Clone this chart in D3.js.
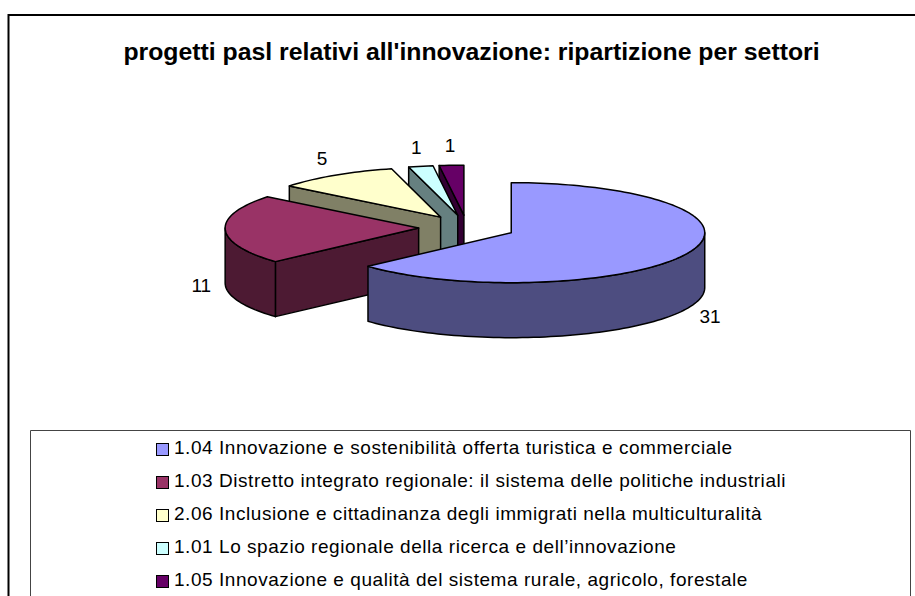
<!DOCTYPE html>
<html>
<head>
<meta charset="utf-8">
<script src="https://cdn.jsdelivr.net/npm/d3@7"></script>
<style>
  html, body { margin: 0; padding: 0; background: #fff; overflow: hidden; }
  svg { display: block; }
  text { font-family: "Liberation Sans", Arial, sans-serif; fill: #000; }
</style>
</head>
<body>
<svg id="chart" width="915" height="596"></svg>
<script>
const chartTitle = "progetti pasl relativi all'innovazione: ripartizione per settori";
const categories = [
  "1.04 Innovazione e sostenibilità offerta turistica e commerciale",
  "1.03 Distretto integrato regionale: il sistema delle politiche industriali",
  "2.06 Inclusione e cittadinanza degli immigrati nella multiculturalità",
  "1.01 Lo spazio regionale della ricerca e dell’innovazione",
  "1.05 Innovazione e qualità del sistema rurale, agricolo, forestale"
];
const values = [31, 11, 5, 1, 1];
const topColors = ["#9999ff", "#993366", "#ffffcc", "#ccffff", "#660066"];
const sideColors = ["#4d4d80", "#4d1a33", "#808066", "#668080", "#330033"];

const svg = d3.select('#chart');

// pie geometry
const cx = 467, cy = 227.6;
const rx = 193.5, ry = 50;
const depth = 55;
const explode = 0.25;

const pie = d3.pie().sort(null).value(d => d);
const slices = pie(values).map((d, i) => {
  const mid = (d.startAngle + d.endAngle) / 2;
  return {
    i, value: d.value, a0: d.startAngle, a1: d.endAngle, mid,
    ox: cx + Math.sin(mid) * rx * explode,
    oy: cy - Math.cos(mid) * ry * explode
  };
});

const rimPoint = (s, a, drop = 0) => [s.ox + Math.sin(a) * rx, s.oy - Math.cos(a) * ry + drop];
const arcPoints = (s, a0, a1, drop = 0) => {
  const n = Math.max(2, Math.ceil((a1 - a0) / 0.03));
  return d3.range(n + 1).map(k => rimPoint(s, a0 + (a1 - a0) * k / n, drop));
};
const line = d3.line();
const closed = pts => line(pts) + 'Z';

// outer frame, no right or bottom edge in the picture
svg.append('path')
  .attr('d', line([[8.5, 596], [8.5, 15], [915, 15]]))
  .attr('fill', 'none')
  .attr('stroke', '#000')
  .attr('stroke-width', 2);

svg.append('text')
  .attr('x', 471.5)
  .attr('y', 60)
  .attr('text-anchor', 'middle')
  .attr('font-size', 24.8)
  .attr('font-weight', 'bold')
  .text(chartTitle);

// back to front : last slice first, the big one goes on top
const g = svg.append('g')
  .attr('stroke', '#000')
  .attr('stroke-width', 1.5)
  .attr('stroke-linejoin', 'round');

slices.slice().reverse().forEach(s => {
  const apex = [s.ox, s.oy];
  const apexLow = [s.ox, s.oy + depth];
  const side = sideColors[s.i];

  // cut walls, only the ones turned to the viewer
  if (Math.sin(s.a0) < -1e-6) {
    g.append('path').attr('fill', side)
      .attr('d', closed([rimPoint(s, s.a0), apex, apexLow, rimPoint(s, s.a0, depth)]));
  }
  if (Math.sin(s.a1) > 1e-6) {
    g.append('path').attr('fill', side)
      .attr('d', closed([rimPoint(s, s.a1), apex, apexLow, rimPoint(s, s.a1, depth)]));
  }

  // outer rim, front half only
  const from = Math.max(s.a0, Math.PI / 2);
  const to = Math.min(s.a1, Math.PI * 1.5);
  if (to > from) {
    g.append('path').attr('fill', side)
      .attr('d', closed([...arcPoints(s, from, to), ...arcPoints(s, from, to, depth).reverse()]));
  }

  // top
  g.append('path').attr('fill', topColors[s.i])
    .attr('d', closed([apex, ...arcPoints(s, s.a0, s.a1)]));
});

// data labels
svg.append('g').selectAll('text')
  .data(slices)
  .enter().append('text')
  .attr('x', s => rimPoint(s, s.mid)[0] + Math.sin(s.mid) * 24)
  .attr('y', s => rimPoint(s, s.mid, Math.cos(s.mid) < 0 ? depth : 0)[1] - Math.cos(s.mid) * 20 + 7)
  .attr('text-anchor', 'middle')
  .attr('font-size', 19)
  .text(s => s.value);

// legend
svg.append('path')
  .attr('d', line([[30.5, 596], [30.5, 430.5], [910.5, 430.5], [910.5, 596]]))
  .attr('fill', 'none')
  .attr('stroke', '#444')
  .attr('stroke-width', 1);

const legendY = d3.scalePoint()
  .domain(categories)
  .range([449, 581]);

const legend = svg.append('g').selectAll('g')
  .data(categories)
  .enter().append('g')
  .attr('transform', d => `translate(156.5,${legendY(d)})`);

legend.append('rect')
  .attr('x', 0)
  .attr('y', -5.5)
  .attr('width', 12)
  .attr('height', 12)
  .attr('fill', (d, i) => topColors[i])
  .attr('stroke', '#000')
  .attr('stroke-width', 1);

legend.append('text')
  .attr('x', 17.5)
  .attr('y', 4.5)
  .attr('font-size', 19)
  .attr('letter-spacing', 0.55)
  .text(d => d);
</script>
</body>
</html>
